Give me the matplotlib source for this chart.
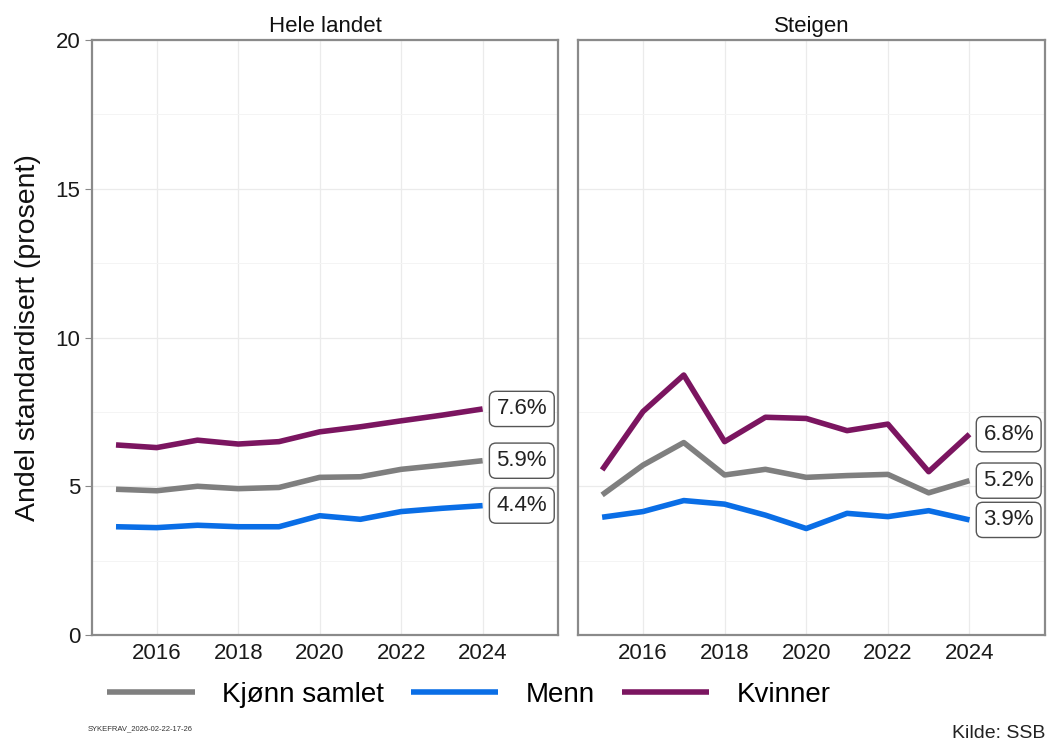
import matplotlib
matplotlib.use("Agg")
import matplotlib.pyplot as plt

plt.rcParams['font.family'] = ['Liberation Sans', 'DejaVu Sans']

years = [2015, 2016, 2017, 2018, 2019, 2020, 2021, 2022, 2023, 2024]
panels = ["Hele landet", "Steigen"]
series_names = ["Kjønn samlet", "Menn", "Kvinner"]
colors = ["#7f7f7f", "#0a6ee6", "#7b1560"]

# Hele landet
hele_samlet = [4.90, 4.85, 5.00, 4.92, 4.96, 5.30, 5.32, 5.57, 5.71, 5.86]
hele_menn = [3.64, 3.61, 3.69, 3.64, 3.64, 4.01, 3.89, 4.15, 4.26, 4.35]
hele_kvinner = [6.39, 6.30, 6.55, 6.42, 6.50, 6.83, 7.00, 7.20, 7.39, 7.60]

# Steigen
steigen_samlet = [4.71, 5.71, 6.47, 5.38, 5.57, 5.30, 5.36, 5.40, 4.78, 5.19]
steigen_menn = [3.96, 4.15, 4.52, 4.40, 4.03, 3.58, 4.09, 3.98, 4.18, 3.87]
steigen_kvinner = [5.55, 7.51, 8.74, 6.50, 7.32, 7.28, 6.87, 7.09, 5.49, 6.75]

end_labels = {
    "Hele landet": ["5.9%", "4.4%", "7.6%"],
    "Steigen": ["5.2%", "3.9%", "6.8%"],
}
data = {
    "Hele landet": [hele_samlet, hele_menn, hele_kvinner],
    "Steigen": [steigen_samlet, steigen_menn, steigen_kvinner],
}

fig = plt.figure(figsize=(10.51, 7.41), dpi=100)
ax_left = fig.add_axes([0.0875, 0.143, 0.4434, 0.803])
ax_right = fig.add_axes([0.55, 0.143, 0.4443, 0.803])

handles = []
for ax, name in zip([ax_left, ax_right], panels):
    for vals, col, lab, txt in zip(data[name], colors, series_names, end_labels[name]):
        h, = ax.plot(years, vals, color=col, lw=4.0, solid_capstyle='butt', label=lab, zorder=3)
        if name == panels[0]:
            handles.append(h)
        ax.annotate(txt, xy=(years[-1], vals[-1]), xytext=(10, 0), textcoords='offset points',
                    ha='left', va='center', fontsize=16, color='#222222', zorder=4,
                    bbox=dict(boxstyle='round,pad=0.32,rounding_size=0.3', fc='white',
                              ec='#555555', lw=1.0))
    ax.set_xlim(2014.41, 2025.85)
    ax.set_ylim(0, 20)
    ax.set_xticks([2016, 2018, 2020, 2022, 2024])
    ax.set_yticks([0, 5, 10, 15, 20])
    ax.set_yticks([2.5, 7.5, 12.5, 17.5], minor=True)
    ax.grid(True, which='major', color='#ebebeb', lw=0.9, zorder=0)
    ax.grid(True, which='minor', axis='y', color='#f4f4f4', lw=0.7, zorder=0)
    ax.tick_params(axis='x', length=0, labelsize=16, pad=6, labelcolor='#1a1a1a')
    ax.tick_params(axis='y', which='major', length=5, color='#888888', labelsize=16,
                   labelcolor='#1a1a1a')
    ax.tick_params(axis='y', which='minor', length=0)
    for sp in ax.spines.values():
        sp.set_color('#8a8a8a')
        sp.set_linewidth(1.6)
    ax.set_title(name, fontsize=16, pad=6, color='#111111')
    ax.set_axisbelow(True)

ax_right.set_yticklabels([])
ax_right.tick_params(axis='y', which='both', length=0)
ax_left.set_ylabel("Andel standardisert (prosent)", fontsize=20.5, labelpad=10, color='#111111')

fig.legend(handles=handles, labels=series_names, loc='center', ncol=3,
           bbox_to_anchor=(469 / 1051, 1 - 695 / 741), frameon=False, fontsize=20,
           handlelength=3.15, handletextpad=1.0, columnspacing=0.95)

fig.text(88 / 1051, 1 - 729 / 741, "SYKEFRAV_2026-02-22-17-26", fontsize=5.5,
         color='#333333', ha='left', va='center')
fig.text(1045 / 1051, 1 - 733 / 741, "Kilde: SSB", fontsize=14, color='#222222',
         ha='right', va='center')

fig.savefig("out.png", dpi=100)
